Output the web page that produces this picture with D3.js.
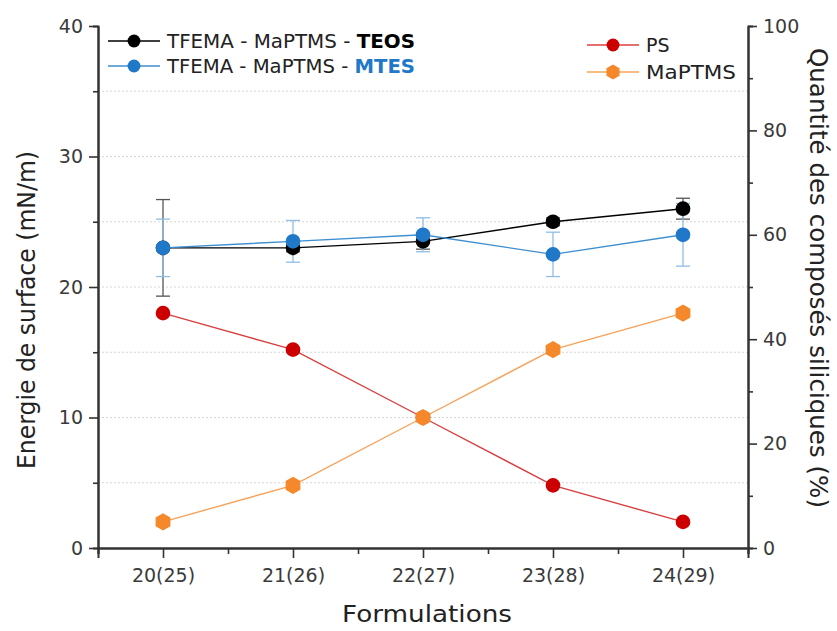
<!DOCTYPE html>
<html>
<head>
<meta charset="utf-8">
<script src="https://cdn.jsdelivr.net/npm/d3@7"></script>
<style>
  html, body { margin: 0; padding: 0; background: #fff; }
  svg { display: block; font-family: "DejaVu Sans", "Noto Sans", sans-serif; }
</style>
</head>
<body>
<svg id="chart" width="837" height="631"></svg>
<script>
// Formulations along the x axis
const categories = ["20(25)", "21(26)", "22(27)", "23(28)", "24(29)"];

// Surface energy (mN/m), left axis
const teos = [23, 23, 23.5, 25, 26];
const teosErr = [3.7, 0.3, 0.6, 0.3, 0.8];
const mtes = [23, 23.5, 24, 22.5, 24];
const mtesErr = [2.2, 1.6, 1.3, 1.7, 2.4];

// Silicon compound content (%), right axis
const ps = [45, 38, 25, 12, 5];
const maptms = [5, 12, 25, 38, 45];

const leftTicks = [0, 10, 20, 30, 40];
const leftMinor = [5, 15, 25, 35];
const rightTicks = [0, 20, 40, 60, 80, 100];
const rightMinor = [10, 30, 50, 70, 90];

const colors = {
  teos: "#000000",
  mtes: "#1f78c8",
  mtesLine: "#3d8fd1",
  mtesErr: "#8fbde3",
  teosErr: "#555555",
  ps: "#cc0000",
  psLine: "#d84040",
  maptms: "#f5882a",
  maptmsLine: "#f6a25a"
};

const svg = d3.select("#chart");
const L = 98, R = 748, T = 26, B = 548;

const x = d3.scaleLinear().domain([-0.5, categories.length - 0.5]).range([L, R]);
const yL = d3.scaleLinear().domain([0, 40]).range([B, T]);
const yR = d3.scaleLinear().domain([0, 100]).range([B, T]);

// dotted grid at every left-axis step
svg.append("g").selectAll("line")
  .data(leftTicks.concat(leftMinor).filter(v => v > 0 && v < 40))
  .join("line")
  .attr("x1", L).attr("x2", R)
  .attr("y1", d => yL(d)).attr("y2", d => yL(d))
  .attr("stroke", "#d6d6d6").attr("stroke-width", 1)
  .attr("stroke-dasharray", "2,2");

// axes
const axisColor = "#333";
const tickFont = 19;

function styleAxis(g) {
  g.attr("font-family", null);
  g.select(".domain").attr("stroke", axisColor).attr("stroke-width", 2);
  g.selectAll(".tick line").attr("stroke", axisColor).attr("stroke-width", 1.6);
  g.selectAll(".tick text").attr("fill", "#3a3a3a").attr("font-size", tickFont);
}

const gxMinor = svg.append("g").attr("transform", `translate(0,${B})`)
  .call(d3.axisBottom(x).tickValues([-0.5, 0.5, 1.5, 2.5, 3.5, 4.5]).tickSize(6).tickFormat(""));
styleAxis(gxMinor);
const gx = svg.append("g").attr("transform", `translate(0,${B})`)
  .call(d3.axisBottom(x).tickValues(d3.range(categories.length)).tickSize(10).tickPadding(11)
    .tickFormat(i => categories[i]));
styleAxis(gx);

const gyMinor = svg.append("g").attr("transform", `translate(${L},0)`)
  .call(d3.axisLeft(yL).tickValues(leftMinor).tickSize(5).tickFormat(""));
styleAxis(gyMinor);
const gy = svg.append("g").attr("transform", `translate(${L},0)`)
  .call(d3.axisLeft(yL).tickValues(leftTicks).tickSize(9).tickPadding(6).tickSizeOuter(0));
styleAxis(gy);

const gyrMinor = svg.append("g").attr("transform", `translate(${R},0)`)
  .call(d3.axisRight(yR).tickValues(rightMinor).tickSize(5).tickFormat(""));
styleAxis(gyrMinor);
const gyr = svg.append("g").attr("transform", `translate(${R},0)`)
  .call(d3.axisRight(yR).tickValues(rightTicks).tickSize(9).tickPadding(6).tickSizeOuter(0));
styleAxis(gyr);

// error bars
function errorBars(vals, errs, color) {
  const g = svg.append("g").attr("stroke", color).attr("stroke-width", 1.3).attr("fill", "none");
  vals.forEach((v, i) => {
    const cx = x(i), y1 = yL(v + errs[i]), y2 = yL(v - errs[i]);
    g.append("line").attr("x1", cx).attr("x2", cx).attr("y1", y1).attr("y2", y2);
    g.append("line").attr("x1", cx - 7).attr("x2", cx + 7).attr("y1", y1).attr("y2", y1);
    g.append("line").attr("x1", cx - 7).attr("x2", cx + 7).attr("y1", y2).attr("y2", y2);
  });
}
errorBars(teos, teosErr, colors.teosErr);
errorBars(mtes, mtesErr, colors.mtesErr);

const hexagon = {
  draw(ctx, size) {
    const r = Math.sqrt(size / (1.5 * Math.sqrt(3)));
    for (let k = 0; k < 6; k++) {
      const a = Math.PI / 6 + k * Math.PI / 3;
      const px = r * Math.cos(a), py = r * Math.sin(a);
      if (k === 0) ctx.moveTo(px, py); else ctx.lineTo(px, py);
    }
    ctx.closePath();
  }
};

// series lines and markers
function series(vals, yScale, lineColor, markColor, shape) {
  const line = d3.line().x((d, i) => x(i)).y(d => yScale(d));
  svg.append("path").datum(vals).attr("d", line)
    .attr("fill", "none").attr("stroke", lineColor).attr("stroke-width", 1.4);
  const sym = d3.symbol().type(shape === "hex" ? hexagon : d3.symbolCircle).size(shape === "hex" ? 190 : 170);
  svg.append("g").selectAll("path").data(vals).join("path")
    .attr("transform", (d, i) => `translate(${x(i)},${yScale(d)})`)
    .attr("d", sym).attr("fill", markColor);
}

series(ps, yR, colors.psLine, colors.ps, "circle");
series(maptms, yR, colors.maptmsLine, colors.maptms, "hex");
series(teos, yL, colors.teos, colors.teos, "circle");
series(mtes, yL, colors.mtesLine, colors.mtes, "circle");

// legends
function legendItem(x0, y0, lineColor, markColor, shape, parts, width) {
  svg.append("line").attr("x1", x0).attr("x2", x0 + 52).attr("y1", y0).attr("y2", y0)
    .attr("stroke", lineColor).attr("stroke-width", 1.4);
  const sym = d3.symbol().type(shape === "hex" ? hexagon : d3.symbolCircle).size(shape === "hex" ? 150 : 130);
  svg.append("path").attr("transform", `translate(${x0 + 26},${y0})`).attr("d", sym).attr("fill", markColor);
  const t = svg.append("text").attr("x", x0 + 59).attr("y", y0).attr("dy", "0.36em")
    .attr("font-size", 19).attr("fill", "#222");
  if (width) t.attr("textLength", width).attr("lengthAdjust", "spacingAndGlyphs");
  parts.forEach(p => {
    t.append("tspan").text(p.text)
      .attr("font-weight", p.bold ? "bold" : null)
      .attr("fill", p.color || "#222");
  });
}
legendItem(108, 41, colors.teos, colors.teos, "circle",
  [{ text: "TFEMA - MaPTMS - " }, { text: "TEOS", bold: true, color: "#000" }], 248);
legendItem(108, 66, colors.mtesLine, colors.mtes, "circle",
  [{ text: "TFEMA - MaPTMS - " }, { text: "MTES", bold: true, color: "#1f78c8" }], 248);
legendItem(587, 45, colors.psLine, colors.ps, "circle", [{ text: "PS" }]);
legendItem(587, 72, colors.maptmsLine, colors.maptms, "hex", [{ text: "MaPTMS" }], 90);

// axis titles
svg.append("text").attr("transform", `translate(27,310) rotate(-90)`)
  .attr("text-anchor", "middle").attr("dy", "0.35em")
  .attr("font-size", 24).attr("fill", "#222")
  .attr("textLength", 318).attr("lengthAdjust", "spacingAndGlyphs")
  .text("Energie de surface (mN/m)");
svg.append("text").attr("transform", `translate(818,278) rotate(90)`)
  .attr("text-anchor", "middle").attr("dy", "0.35em")
  .attr("font-size", 24).attr("fill", "#222")
  .attr("textLength", 460).attr("lengthAdjust", "spacingAndGlyphs")
  .text("Quantité des composés siliciques (%)");
svg.append("text").attr("x", 427).attr("y", 622)
  .attr("text-anchor", "middle").attr("font-size", 23).attr("fill", "#222")
  .attr("textLength", 170).attr("lengthAdjust", "spacingAndGlyphs")
  .text("Formulations");
</script>
</body>
</html>
